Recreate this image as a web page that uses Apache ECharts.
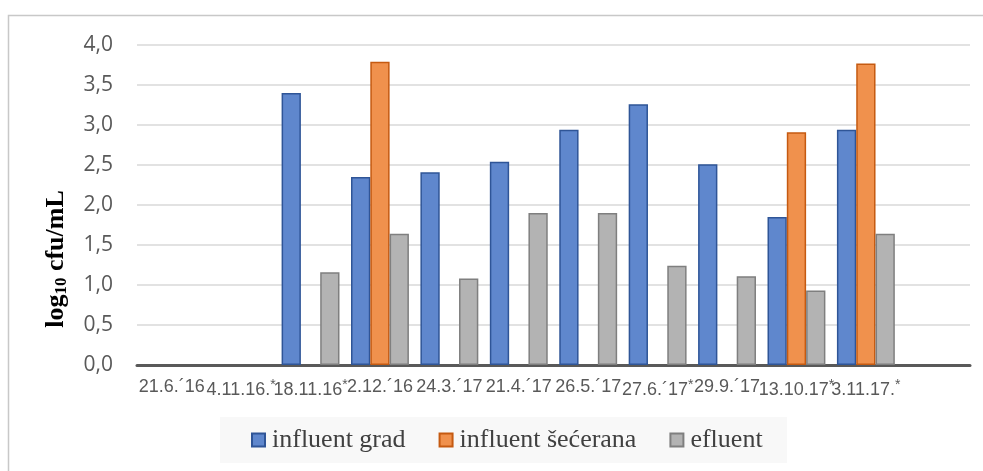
<!DOCTYPE html>
<html>
<head>
<meta charset="utf-8">
<script src="https://cdn.jsdelivr.net/npm/echarts@6/dist/echarts.min.js"></script>
<style>
html,body{margin:0;padding:0;background:#fff;}
#c{width:983px;height:471px;}
</style>
</head>
<body>
<div id="c"></div>
<script>
var categories = ["21.6.´16","4.11.16.*","18.11.16*","2.12.´16","24.3.´17","21.4.´17","26.5.´17","27.6.´17*","29.9.´17","13.10.17*","3.11.17.*",""];
var influentGrad = [null,null,3.40,2.35,2.41,2.54,2.94,3.26,2.51,1.85,2.94,null];
var influentSecerana = [null,null,null,3.79,null,null,null,null,null,2.91,3.77,null];
var efluent = [null,null,1.16,1.64,1.08,1.90,1.90,1.24,1.11,0.93,1.64,null];
var seriesNames = ["influent grad","influent šećerana","efluent"];
var yTicks = ["0,0","0,5","1,0","1,5","2,0","2,5","3,0","3,5","4,0"];

var chart = echarts.init(document.getElementById('c'), null, {renderer:'canvas'});
function barSeries(name, data, fill, border){
  return {
    name: name, type: 'bar', data: data,
    barWidth: 19.3, barGap: '0%',
    itemStyle: {color: fill, borderColor: border, borderWidth: 1.5},
    emphasis: {disabled: true}
  };
}
chart.setOption({
  animation: false,
  backgroundColor: '#ffffff',
  graphic: [
    {type:'rect', shape:{x:8.5,y:15.5,width:1000,height:500}, style:{fill:'none', stroke:'#c8c8c8', lineWidth:1.5}, silent:true, z:-10},
    {type:'rect', shape:{x:220,y:417,width:567,height:46}, style:{fill:'#f8f8f8'}, silent:true, z:-5},
    {type:'text', x:56, y:259, rotation:Math.PI/2,
      style:{
        text:'{a|log}{b|10}{a| cfu/mL}',
        align:'center', verticalAlign:'middle',
        rich:{
          a:{fontFamily:'Liberation Serif', fontWeight:'bold', fontSize:26, fill:'#000', verticalAlign:'middle'},
          b:{fontFamily:'Liberation Serif', fontWeight:'bold', fontSize:17, fill:'#000', verticalAlign:'bottom', padding:[12,0,0,0]}
        }
      }, silent:true}
  ],
  grid: {left:137, right:13, top:45, bottom:106, containLabel:false},
  legend: {
    data: seriesNames,
    left: 251, top: 427, padding: 0,
    itemWidth: 13, itemHeight: 13, itemGap: 33,
    icon: 'rect',
    textStyle: {fontFamily:'Liberation Serif', fontSize:26, color:'#404040', padding:[0,0,0,2]}
  },
  xAxis: {
    type: 'category',
    data: categories,
    axisLine: {lineStyle:{color:'#595959', width:3}},
    axisTick: {show:false},
    axisLabel: {
      interval: 0, margin: 13, color:'#595959', fontFamily:'Liberation Sans', fontSize:18,
      formatter: function(v){
        if (v.indexOf('*') >= 0) { return v.replace('*','') + '{s|*}'; }
        return v;
      },
      rich: {s:{fontSize:14, color:'#595959', verticalAlign:'top', padding:[0,0,10,0]}}
    }
  },
  yAxis: {
    type: 'value', min: 0, max: 4, interval: 0.5,
    axisLine: {show:false}, axisTick: {show:false},
    splitLine: {lineStyle:{color:'#d9d9d9', width:1.5}},
    axisLabel: {
      margin: 24, color:'#595959', fontFamily:'Open Sans', fontSize:21,
      formatter: function(v){ return yTicks[Math.round(v/0.5)]; }
    }
  },
  series: [
    barSeries(seriesNames[0], influentGrad, '#5f87cd', '#2f5597'),
    barSeries(seriesNames[1], influentSecerana, '#f0914d', '#c55a11'),
    barSeries(seriesNames[2], efluent, '#b3b3b3', '#7f7f7f')
  ]
});
</script>
</body>
</html>
